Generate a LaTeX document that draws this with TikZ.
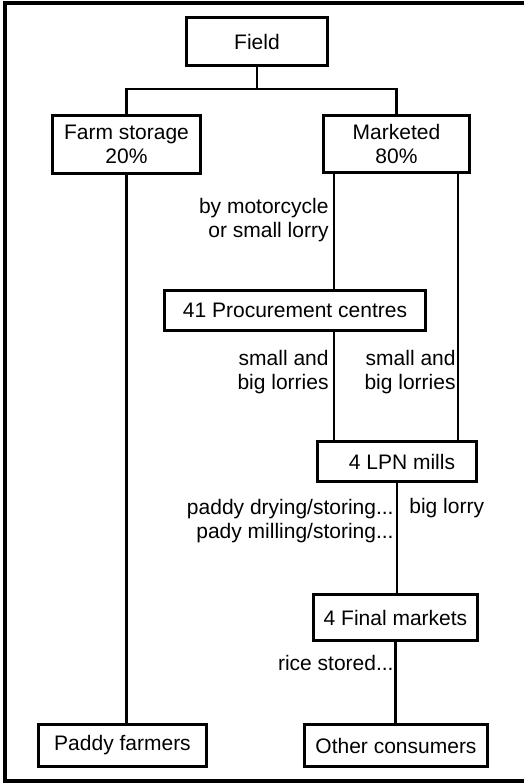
\documentclass[tikz,border=0pt]{standalone}
\usepackage{fontspec}
\setmainfont{Liberation Sans}
\newcommand\chartfont{\fontsize{10.5}{12}\selectfont}
\begin{document}
\begin{tikzpicture}[x=0.5pt,y=-0.5pt,
  box/.style={draw, line width=1.5pt, inner sep=0pt, align=center, font=\chartfont},
  link/.style={line width=1.1pt},
  note/.style={inner sep=0pt, font=\chartfont},
  frame/.style={line width=1.6pt}]
\useasboundingbox (0,0) rectangle (524,784);
\clip (0,0) rectangle (524,784);
\fill[white] (0,0) rectangle (524,784);

% outer frame (open on the right)
\draw[frame] (540,3) -- (5,3) -- (5,781) -- (540,781);

% boxes
\node[box, minimum width=70.5pt, minimum height=24pt] (field) at (257,41.5) {Field};
\node[box, minimum width=74pt, minimum height=29pt] (farm) at (126.5,144.5) {Farm storage\\20\%};
\node[box, minimum width=73pt, minimum height=28.5pt] (mkt) at (396.5,144) {Marketed\\80\%};
\node[box, minimum width=130.5pt, minimum height=20pt] (proc) at (295,310.5) {41 Procurement centres};
\node[box, minimum width=79.5pt, minimum height=20pt] (lpn) at (397,461.5) {\hspace*{5pt}4 LPN mills};
\node[box, minimum width=82pt, minimum height=23pt] (final) at (395.5,617.5) {4 Final markets};
\node[box, minimum width=84pt, minimum height=21pt] (paddy) at (122.5,745.5) {Paddy farmers};
\node[box, minimum width=91.5pt, minimum height=21pt] (other) at (396,745.5) {Other consumers};

% routing helpers
\coordinate (split) at (257,89);
\coordinate (xa) at (334,0);
\coordinate (xb) at (458,0);

% connectors
\draw[link] (field.south) -- (split);
\draw[link] (farm.north) |- (split) -| (mkt.north);
\draw[link] (farm.south) -- (farm.south |- paddy.north);
\draw[link] (xa |- mkt.south) -- (xa |- proc.north);
\draw[link] (xa |- proc.south) -- (xa |- lpn.north);
\draw[link] (xb |- mkt.south) -- (xb |- lpn.north);
\draw[link] (lpn.south) -- (lpn.south |- final.north);
\draw[link] (final.south) -- (final.south |- other.north);

% route labels
\node[note, anchor=east, align=right] (l1) at (329,220) {by motorcycle\\or small lorry};
\node[note, anchor=east, align=right] (l2) at (329,372) {small and\\big lorries};
\node[note, anchor=east, align=right] (l3) at (456,372) {small and\\big lorries};
\node[note, anchor=east, align=right] (l4) at (394,521) {paddy drying/storing...\\pady milling/storing...};
\node[note, anchor=west] (l5) at (409,508) {big lorry};
\node[note, anchor=east] (l6) at (394,663) {rice stored...};
\end{tikzpicture}
\end{document}
